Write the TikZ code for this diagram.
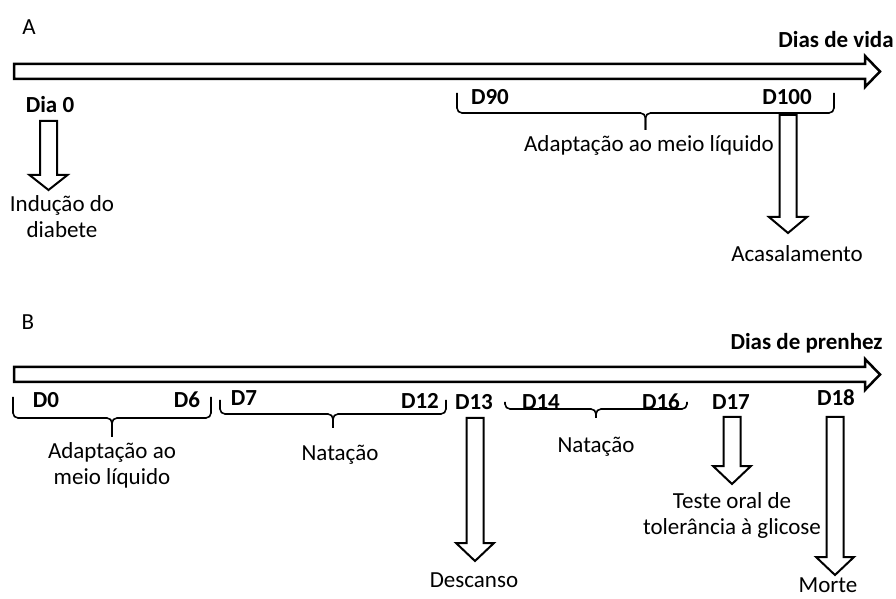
\documentclass[tikz,border=0pt]{standalone}
\usepackage{fontspec}
\setmainfont{Carlito}
\usetikzlibrary{positioning}

\tikzset{
  lbl/.style={font=\fontsize{11.5}{13}\selectfont, inner sep=0pt, align=center},
  day/.style={lbl, font=\fontsize{11.5}{13}\selectfont\bfseries},
  axis/.style={draw, line width=1.25pt, fill=white, line join=miter},
  fatarrow/.style={draw, line width=1pt, fill=white, line join=miter},
  period/.style={line width=0.8pt, rounded corners=2.5pt},
}
% hollow arrow pointing down: x, top, head base, tip
\newcommand{\fatdown}[4]{%
  \draw[fatarrow] ({#1-8.5},#2) -- ({#1+8.5},#2) -- ({#1+8.5},#3) -- ({#1+19},#3)
    -- (#1,#4) -- ({#1-19},#3) -- ({#1-8.5},#3) -- cycle;}
% period bracket: left, right, top, bar, tip
\newcommand{\period}[5]{%
  \draw[period] (#1,#3) -- (#1,#4) -- ({(#1+#2)/2},#4) -- ({(#1+#2)/2},#5);
  \draw[period] (#2,#3) -- (#2,#4) -- ({(#1+#2)/2},#4) -- ({(#1+#2)/2},#5);}
% time axis: shaft centre y
\newcommand{\timeaxis}[1]{%
  \draw[axis] (14,{#1-7.5}) -- (865,{#1-7.5}) -- (865,{#1-15.5}) -- (880,#1)
    -- (865,{#1+15.5}) -- (865,{#1+7.5}) -- (14,{#1+7.5}) -- cycle;}

\begin{document}
\begin{tikzpicture}[x=0.5pt,y=-0.5pt]
  \useasboundingbox (0,0) rectangle (896,599);

  % A: dias de vida
  \node[lbl] (labA) at (29,27) {A};
  \timeaxis{71.5}
  \node[day,anchor=east] (vida) at (894,40) {Dias de vida};
  \node[day] (dia0) at (50,105) {Dia 0};
  \fatdown{48.5}{121}{175}{190}
  \node[lbl] (inducao) at (62,217) {Indução do\\diabete};
  \period{457}{834}{93}{113}{130}
  \node[day] (d90) at (490,97) {D90};
  \node[day] (d100) at (787,97) {D100};
  \node[lbl] (adaptA) at (649,145) {Adaptação ao meio líquido};
  \fatdown{788}{115}{217}{233}
  \node[lbl] (acasal) at (797,254) {Acasalamento};

  % B: dias de prenhez
  \node[lbl] (labB) at (28,322) {B};
  \timeaxis{374.5}
  \node[day,anchor=east] (prenhez) at (883,343) {Dias de prenhez};
  \period{13}{211}{397}{418}{437}
  \node[day] (d0) at (46,400) {D0};
  \node[day] (d6) at (187,400) {D6};
  \node[lbl] (adaptB) at (112,465) {Adaptação ao\\meio líquido};
  \period{220}{446}{400}{414}{428}
  \node[day] (d7) at (244,398) {D7};
  \node[day] (d12) at (420,401) {D12};
  \node[lbl] (natA) at (340,455) {Natação};
  \node[day] (d13) at (474,402) {D13};
  \fatdown{475}{418}{543}{561}
  \node[lbl] (descanso) at (474,580) {Descanso};
  \period{505}{687}{402}{409}{418}
  \node[day] (d14) at (541,402) {D14};
  \node[day] (d16) at (661,402) {D16};
  \node[lbl] (natB) at (596,447) {Natação};
  \node[day] (d17) at (731,402) {D17};
  \fatdown{732}{417}{466}{484}
  \node[lbl] (teste) at (732,515) {Teste oral de\\tolerância à glicose};
  \node[day] (d18) at (836,398) {D18};
  \fatdown{835}{417}{557}{575}
  \node[lbl] (morte) at (828,585) {Morte};
\end{tikzpicture}
\end{document}
